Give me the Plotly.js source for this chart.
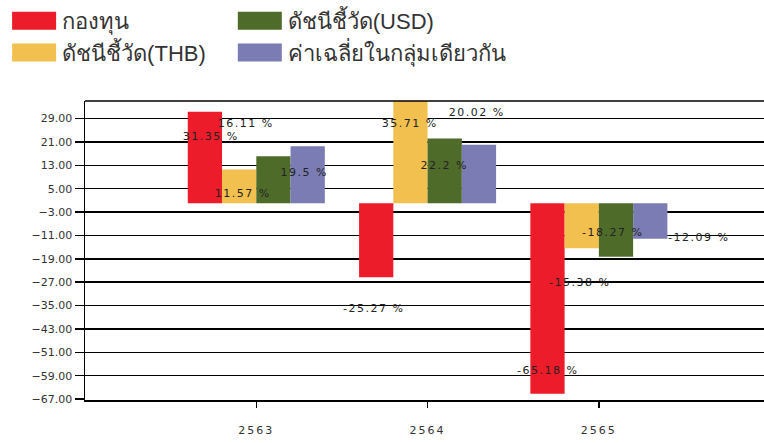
<!DOCTYPE html>
<html>
<head>
<meta charset="utf-8">
<script src="https://cdn.plot.ly/plotly-3.0.1.min.js"></script>
<style>
html,body{margin:0;padding:0;background:#fff;}
#chart{width:764px;height:443px;}
#chart .annotation-text{letter-spacing:1.5px;}
#chart .xtick text{letter-spacing:2px;}
</style>
</head>
<body>
<div id="chart"></div>
<script>
// ---- data ----
const years = ['2563', '2564', '2565'];
const seriesNames = ['กองทุน', 'ดัชนีชี้วัด(THB)', 'ดัชนีชี้วัด(USD)', 'ค่าเฉลี่ยในกลุ่มเดียวกัน'];
const fund = [31.35, -25.27, -65.18];
const benchTHB = [11.57, 35.71, -15.38];
const benchUSD = [16.11, 22.2, -18.27];
const peerAvg = [19.5, 20.02, -12.09];
const yTickVals = [29, 21, 13, 5, -3, -11, -19, -27, -35, -43, -51, -59, -67];

// ---- styling ----
const colors = ['#ec1c2a', '#f2c04f', '#4f6b2a', '#7a7cb3'];
const legendOf = ['legend', 'legend', 'legend2', 'legend2'];
// label placement offsets (x in category units from bar centre, y in value units from bar end)
const labelDx = [
  [0.033, -0.015, 0.0],
  [0.02, -0.005, -0.012],
  [-0.162, -0.007, -0.02],
  [-0.024, -0.014, 0.28]
];
const labelDy = [
  [-8.45, -10.7, 7.9],
  [-8.2, -8.3, -11.7],
  [11.3, -9.2, 8.3],
  [-8.9, 11.2, 0.4]
];

const allSeries = [fund, benchTHB, benchUSD, peerAvg];
const xIdx = years.map((_, i) => i);
const barWidth = 0.2;

const traces = allSeries.map((vals, s) => ({
  type: 'bar',
  name: seriesNames[s],
  x: xIdx,
  y: vals,
  marker: {color: colors[s], line: {width: 0}},
  legend: legendOf[s],
  hoverinfo: 'skip'
}));

const annotations = [];
allSeries.forEach((vals, s) => {
  vals.forEach((v, i) => {
    const cx = i + (s - 1.5) * barWidth;
    annotations.push({
      x: cx + labelDx[s][i],
      y: v + labelDy[s][i],
      xref: 'x', yref: 'y',
      text: v + ' %',
      showarrow: false,
      font: {family: 'DejaVu Sans, sans-serif', size: 11, color: '#222'}
    });
  });
});

const legendFont = {family: 'Arial, Noto Sans, sans-serif', size: 22, color: '#333'};
const tickFont = {family: 'DejaVu Sans, sans-serif', size: 11, color: '#333'};

const layout = {
  width: 764,
  height: 443,
  paper_bgcolor: '#fff',
  plot_bgcolor: '#fff',
  margin: {l: 85, r: 0, t: 101, b: 43, autoexpand: false},
  barmode: 'group',
  bargap: 0.2,
  bargroupgap: 0,
  showlegend: true,
  legend: {
    xref: 'container', yref: 'container',
    x: 0.008, y: 1.0, xanchor: 'left', yanchor: 'top',
    orientation: 'v', font: legendFont, bgcolor: 'rgba(0,0,0,0)',
    traceorder: 'normal', tracegroupgap: 0, itemwidth: 46
  },
  legend2: {
    xref: 'container', yref: 'container',
    x: 0.3034, y: 1.0, xanchor: 'left', yanchor: 'top',
    orientation: 'v', font: legendFont, bgcolor: 'rgba(0,0,0,0)',
    traceorder: 'normal', tracegroupgap: 0, itemwidth: 46
  },
  xaxis: {
    type: 'linear',
    range: [-1, 2.964],
    tickvals: xIdx,
    ticktext: years,
    ticks: 'outside', ticklen: 6, tickwidth: 1.5, tickcolor: '#000',
    showgrid: false, zeroline: false,
    showline: true, linecolor: '#000', linewidth: 1.5,
    ticklabelstandoff: 13,
    tickfont: {family: 'DejaVu Sans, sans-serif', size: 11, color: '#333'}
  },
  yaxis: {
    range: [-67.3, 35],
    tickvals: yTickVals,
    tickformat: '.2f',
    ticks: 'outside', ticklen: 9, tickwidth: 1.5, tickcolor: '#000',
    showgrid: true, gridcolor: '#000', gridwidth: 1.5,
    zeroline: false,
    showline: true, linecolor: '#000', linewidth: 1.5, mirror: false,
    tickfont: tickFont
  },
  shapes: [{
    type: 'line', xref: 'paper', yref: 'paper', x0: 0, x1: 1, y0: 1, y1: 1,
    line: {color: '#000', width: 1.5}
  }],
  annotations: annotations
};

Plotly.newPlot('chart', traces, layout, {displayModeBar: false, staticPlot: true}).then(function (gd) {
  // enlarge the legend swatches to the wide blocks of the original
  gd.querySelectorAll('.legendpoints path').forEach(function (p) {
    p.setAttribute('d', 'M22,9H-22V-9H22Z');
  });
});
</script>
</body>
</html>
